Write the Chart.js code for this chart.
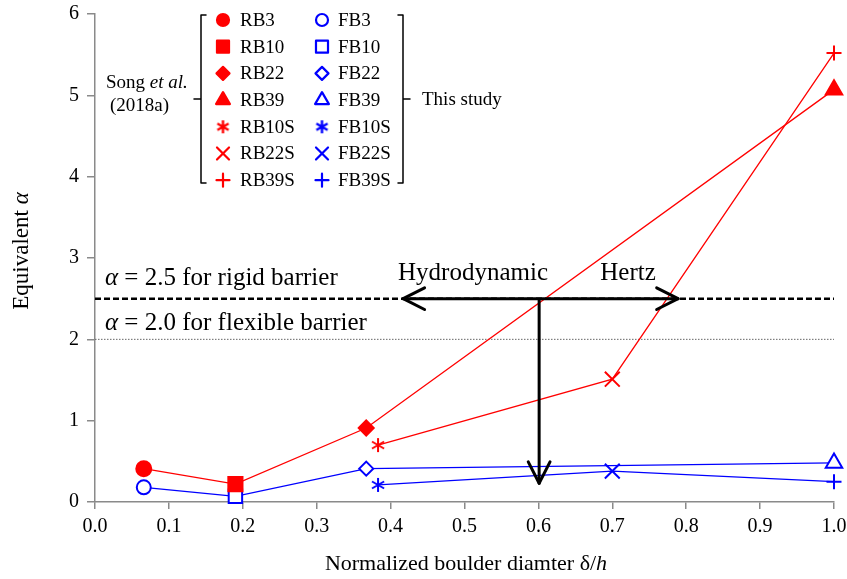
<!DOCTYPE html>
<html>
<head>
<meta charset="utf-8">
<script src="https://cdn.jsdelivr.net/npm/chart.js@4/dist/chart.umd.min.js"></script>
<style>
  body { margin: 0; background: #fff; }
</style>
</head>
<body>
<canvas id="alphaChart" width="847" height="579"></canvas>
<script>
// Song et al. (2018a): rigid (RB) and flexible (FB) barriers
const songRigidNames = ['RB3', 'RB10', 'RB22', 'RB39'];
const songFlexNames = ['FB3', 'FB10', 'FB22', 'FB39'];
const songX = [0.066, 0.19, 0.367, 1.0];
const songRigid = [0.41, 0.22, 0.91, 5.07];
const songFlex = [0.18, 0.07, 0.41, 0.48];

// this study
const studyRigidNames = ['RB10S', 'RB22S', 'RB39S'];
const studyFlexNames = ['FB10S', 'FB22S', 'FB39S'];
const studyX = [0.383, 0.70, 1.0];
const studyRigid = [0.70, 1.51, 5.52];
const studyFlex = [0.21, 0.38, 0.25];

// reference alpha levels and the arrows between the regimes
const rigidLevel = 2.5;
const flexLevel = 2.0;
const arrowLeftX = 0.417;
const arrowRightX = 0.789;
const arrowDownX = 0.601;
const arrowDownTo = 0.23;

const FONT = "'Liberation Serif', 'Times New Roman', serif";
const RED = '#ff0000';
const BLUE = '#0000ff';
const AXIS = '#8a8a8a';

// six-armed asterisk marker (not available as a built-in pointStyle)
function asterisk(color, r, w) {
    const c = document.createElement('canvas');
    const s = Math.ceil(2 * r + 4);
    c.width = s;
    c.height = s;
    const g = c.getContext('2d');
    g.strokeStyle = color;
    g.lineWidth = w;
    const m = s / 2;
    g.beginPath();
    for (let k = 0; k < 3; k++) {
        const a = Math.PI / 2 + k * Math.PI / 3;
        g.moveTo(m - r * Math.cos(a), m - r * Math.sin(a));
        g.lineTo(m + r * Math.cos(a), m + r * Math.sin(a));
    }
    g.stroke();
    return c;
}

const songStyles = ['circle', 'rect', 'rectRot', 'triangle'];
const songRadius = [7.5, 10, 7.5, 9.5];
const studyRadius = [7, 10.5, 7.5];

function toPoints(xs, ys) {
    return xs.map((x, i) => ({ x: x, y: ys[i] }));
}

function seriesLine(xs, ys, color, styles, radius, filled) {
    return {
        data: toPoints(xs, ys),
        borderColor: color,
        borderWidth: 1.3,
        pointStyle: styles,
        pointRadius: radius,
        pointBorderColor: color,
        pointBackgroundColor: filled ? color : '#fff',
        pointBorderWidth: 2,
        clip: false
    };
}

const datasets = [
    seriesLine(songX, songRigid, RED, songStyles, songRadius, true),
    seriesLine(studyX, studyRigid, RED, [asterisk(RED, 7, 2), 'crossRot', 'cross'], studyRadius, true),
    seriesLine(songX, songFlex, BLUE, songStyles, [7, 9.5, 7, 9.5], false),
    seriesLine(studyX, studyFlex, BLUE, [asterisk(BLUE, 7, 2), 'crossRot', 'cross'], studyRadius, false),
    {
        data: [{ x: 0, y: rigidLevel }, { x: 1, y: rigidLevel }],
        borderColor: '#000', borderWidth: 2.5, borderDash: [6, 3], pointRadius: 0
    },
    {
        data: [{ x: 0, y: flexLevel }, { x: 1, y: flexLevel }],
        borderColor: '#666', borderWidth: 1, borderDash: [1.5, 1.5], pointRadius: 0
    }
];

// text with italic pieces, e.g. "α" or "et al."
function richText(ctx, parts, x, y, size, align) {
    let total = 0;
    parts.forEach(p => {
        ctx.font = (p[1] ? 'italic ' : '') + size + 'px ' + FONT;
        total += ctx.measureText(p[0]).width;
    });
    let cx = align === 'center' ? x - total / 2 : x;
    ctx.textAlign = 'left';
    ctx.textBaseline = 'middle';
    ctx.fillStyle = '#000';
    parts.forEach(p => {
        ctx.font = (p[1] ? 'italic ' : '') + size + 'px ' + FONT;
        ctx.fillText(p[0], cx, y);
        cx += ctx.measureText(p[0]).width;
    });
}

function arrowHead(ctx, x, y, angle) {
    const len = 24, spread = 0.47;
    ctx.beginPath();
    ctx.moveTo(x - len * Math.cos(angle - spread), y - len * Math.sin(angle - spread));
    ctx.lineTo(x, y);
    ctx.lineTo(x - len * Math.cos(angle + spread), y - len * Math.sin(angle + spread));
    ctx.stroke();
}

function bracket(ctx, x, top, bottom, dir) {
    const mid = (top + bottom) / 2;
    ctx.beginPath();
    ctx.moveTo(x + dir * 5, top);
    ctx.lineTo(x, top);
    ctx.lineTo(x, bottom);
    ctx.lineTo(x + dir * 5, bottom);
    ctx.moveTo(x, mid);
    ctx.lineTo(x - dir * 7, mid);
    ctx.stroke();
}

const extras = {
    id: 'extras',
    afterDatasetsDraw(chart) {
        const ctx = chart.ctx;
        const x = chart.scales.x;
        const y = chart.scales.y;
        ctx.save();

        // arrows: hydrodynamic <-> Hertz, and the drop at delta/h = 0.6
        ctx.strokeStyle = '#000';
        ctx.lineWidth = 3;
        ctx.lineCap = 'round';
        ctx.lineJoin = 'round';
        const yr = y.getPixelForValue(rigidLevel);
        const xl = x.getPixelForValue(arrowLeftX);
        const xr = x.getPixelForValue(arrowRightX);
        const xd = x.getPixelForValue(arrowDownX);
        const yd = y.getPixelForValue(arrowDownTo);
        ctx.beginPath();
        ctx.moveTo(xl, yr);
        ctx.lineTo(xr, yr);
        ctx.moveTo(xd, yr);
        ctx.lineTo(xd, yd);
        ctx.stroke();
        arrowHead(ctx, xl, yr, Math.PI);
        arrowHead(ctx, xr, yr, 0);
        arrowHead(ctx, xd, yd, Math.PI / 2);

        richText(ctx, [['Hydrodynamic', false]], 473, 273, 25, 'center');
        richText(ctx, [['Hertz', false]], 628, 273, 25, 'center');
        richText(ctx, [['α', true], [' = 2.5 for rigid barrier', false]], 105, 278, 25, 'left');
        richText(ctx, [['α', true], [' = 2.0 for flexible barrier', false]], 105, 323, 25, 'left');

        // axis titles
        richText(ctx, [['Normalized boulder diamter δ/', false], ['h', true]], 466, 564, 22, 'center');
        ctx.save();
        ctx.translate(22, 251);
        ctx.rotate(-Math.PI / 2);
        richText(ctx, [['Equivalent ', false], ['α', true]], 0, 0, 23, 'center');
        ctx.restore();

        // legend in two columns with brackets
        const cols = [
            { ds: [datasets[0], datasets[1]], names: songRigidNames.concat(studyRigidNames), mx: 223, tx: 240 },
            { ds: [datasets[2], datasets[3]], names: songFlexNames.concat(studyFlexNames), mx: 322, tx: 338 }
        ];
        const legendRadius = [6, 8.5, 6.5, 8, 0, 8.5, 6.5];
        cols.forEach(col => {
            col.names.forEach((name, i) => {
                const ry = 20 + i * 26.7;
                const src = i < 4 ? col.ds[0] : col.ds[1];
                const style = i === 4 ? asterisk(src.pointBorderColor, 6.5, 2.4) : src.pointStyle[i < 4 ? i : i - 4];
                ctx.save();
                ctx.fillStyle = src.pointBackgroundColor;
                ctx.strokeStyle = src.pointBorderColor;
                ctx.lineWidth = 2.2;
                ctx.setLineDash([]);
                Chart.helpers.drawPoint(ctx, { pointStyle: style, radius: legendRadius[i], rotation: 0, borderWidth: 2.2 }, col.mx, ry);
                ctx.restore();
                richText(ctx, [[name, false]], col.tx, ry + 1, 19, 'left');
            });
        });
        ctx.strokeStyle = '#000';
        ctx.lineWidth = 1.5;
        ctx.lineCap = 'round';
        bracket(ctx, 201, 15, 183, 1);
        bracket(ctx, 403, 15, 183, -1);
        richText(ctx, [['Song ', false], ['et al.', true]], 106, 83, 19, 'left');
        richText(ctx, [['(2018a)', false]], 110, 106, 19, 'left');
        richText(ctx, [['This study', false]], 422, 100, 19, 'left');

        ctx.restore();
    }
};

// keep the plot frame fixed, tick labels may overhang it
function noOverhang(scale) {
    scale.paddingTop = 0;
    scale.paddingBottom = 0;
    scale.paddingLeft = 0;
    scale.paddingRight = 0;
}

const ctx = document.getElementById('alphaChart').getContext('2d');
new Chart(ctx, {
    type: 'line',
    data: { datasets: datasets },
    options: {
        responsive: false,
        animation: false,
        events: [],
        layout: { padding: { top: 14, right: 13, left: 0, bottom: 0 } },
        plugins: {
            legend: { display: false },
            tooltip: { enabled: false }
        },
        scales: {
            x: {
                type: 'linear',
                min: 0,
                max: 1,
                border: { color: AXIS, width: 1.5 },
                grid: { drawOnChartArea: false, drawTicks: true, tickLength: 7, color: AXIS, lineWidth: 1.5 },
                ticks: {
                    stepSize: 0.1,
                    color: '#000',
                    padding: 6,
                    maxRotation: 0,
                    autoSkip: false,
                    font: { family: FONT, size: 20 },
                    callback: value => Number(value).toFixed(1)
                },
                afterFit: scale => { scale.height = 77; noOverhang(scale); }
            },
            y: {
                type: 'linear',
                min: 0,
                max: 6,
                border: { color: AXIS, width: 1.5 },
                grid: { drawOnChartArea: false, drawTicks: true, tickLength: 8, color: AXIS, lineWidth: 1.5 },
                ticks: {
                    stepSize: 1,
                    color: '#000',
                    padding: 8,
                    font: { family: FONT, size: 20 }
                },
                afterFit: scale => { scale.width = 95; noOverhang(scale); }
            }
        }
    },
    plugins: [extras]
});
</script>
</body>
</html>
